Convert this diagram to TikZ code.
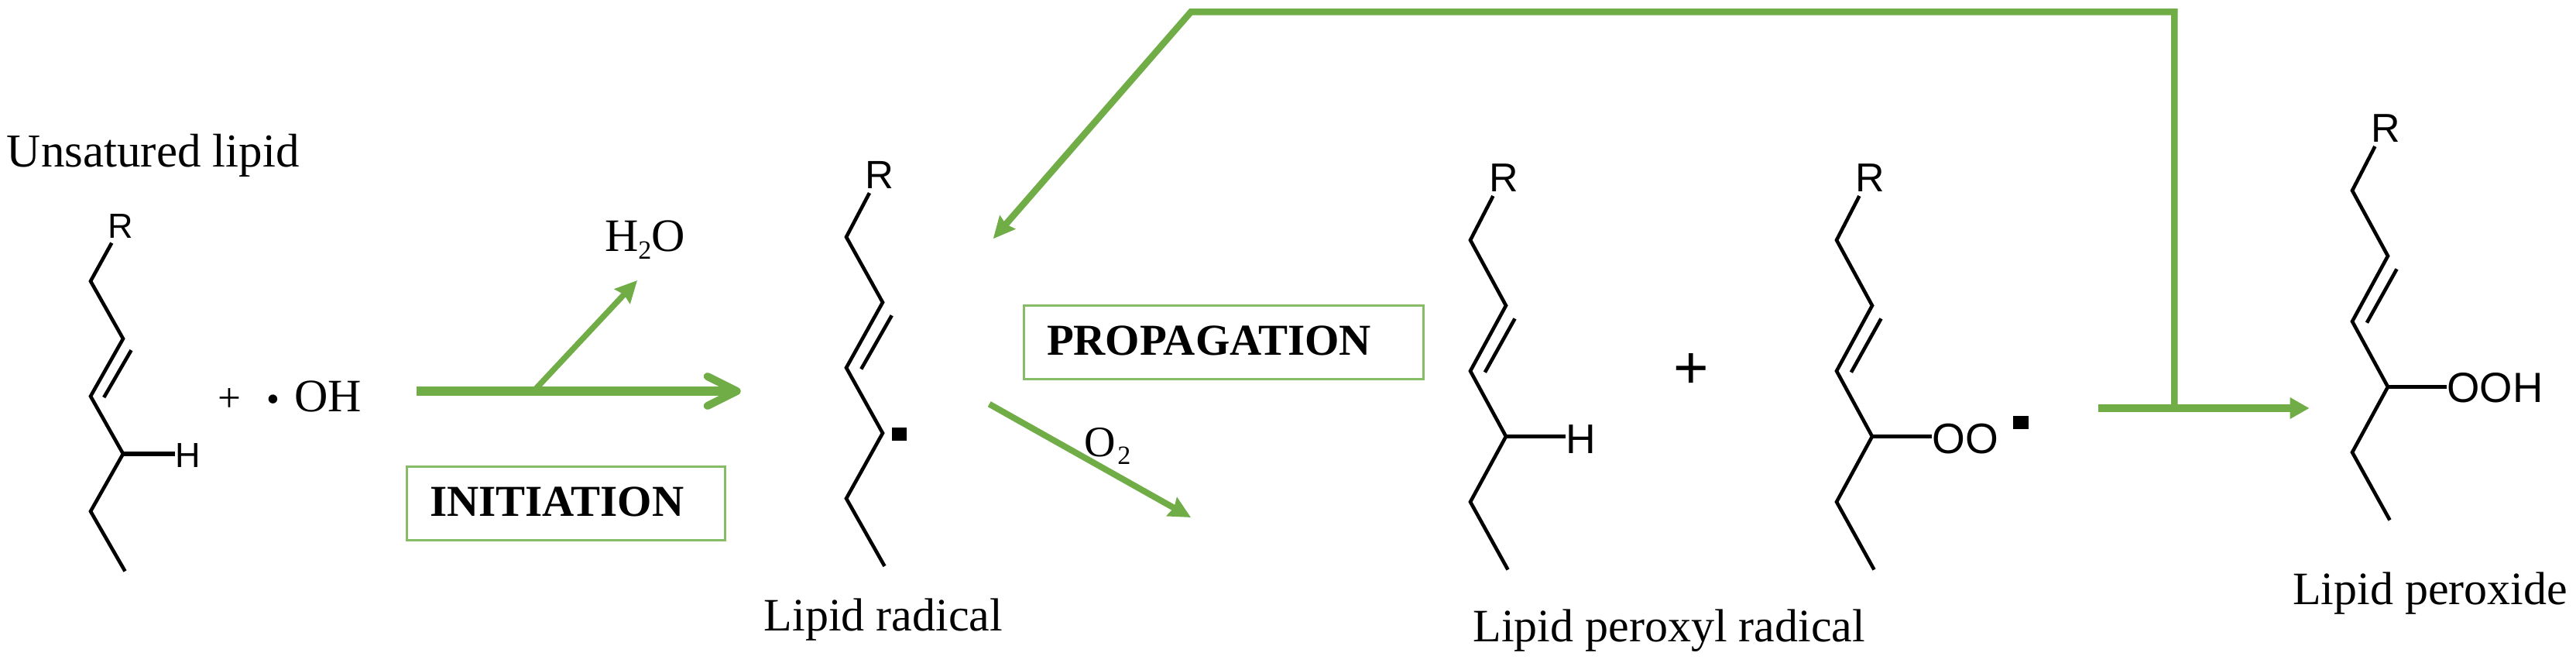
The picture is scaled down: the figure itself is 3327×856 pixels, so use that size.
\documentclass[tikz,border=0pt]{standalone}
\usepackage{fontspec}
\setmainfont{Liberation Serif}
\newfontfamily\chemfont{Liberation Sans}
\usetikzlibrary{arrows.meta}
\definecolor{lipgreen}{HTML}{70AD47}
\definecolor{boxgreen}{HTML}{85BC65}
\newcommand{\lipidchain}[6]{%
  \coordinate (#1c1) at (#2,#3);
  \coordinate (#1c2) at ({#2+#4},{#3+#5});
  \coordinate (#1c3) at (#2,{#3+2*#5});
  \coordinate (#1c4) at ({#2+#4},{#3+3*#5});
  \coordinate (#1c5) at (#2,{#3+4*#5});
  \coordinate (#1c6) at ({#2+#4+2.5},{#3+5*#5+3});
  \coordinate (#1d1) at ({#2+1.25*#4},{#3+1.2*#5});
  \coordinate (#1d2) at ({#2+.41*#4},{#3+2.02*#5});
  \node[atom,font=\chemfont\fontsize{#6}{#6}\selectfont] (#1R) at ({#2+.53*#4},{#3-.745*#5}) {R};
  \draw[bond] ([shift={(5,6)}]#1R.base west) -- (#1c1) -- (#1c2) -- (#1c3) -- (#1c4) -- (#1c5) -- (#1c6);
  \draw[bond] (#1d1) -- (#1d2);
}
\tikzset{
  atom/.style={inner sep=0pt,outer sep=0pt,anchor=base west},
  bond/.style={draw=black,line width=4.6pt,line join=miter},
  hbond/.style={draw=black,line width=5.5pt},
  label/.style={inner sep=0pt,outer sep=0pt,font=\fontsize{60}{62}\selectfont},
  stage/.style={inner sep=0pt,outer sep=0pt,anchor=base west,font=\bfseries\fontsize{57}{60}\selectfont},
  stagebox/.style={draw=boxgreen,line width=3pt,inner sep=0pt},
  greenline/.style={draw=lipgreen,line join=miter},
  headtip/.style={-{Stealth[length=28pt,width=27pt,inset=3pt]}},
  radical/.style={fill=black,inner sep=0pt,outer sep=0pt,minimum width=19pt,minimum height=17pt},
}
\begin{document}
\begin{tikzpicture}[x=1pt,y=-1pt]
\useasboundingbox (0,0) rectangle (3327,856);
% structure 1
\lipidchain{a}{117}{363}{42}{74.3}{45}
\node[atom,font=\chemfont\fontsize{45}{45}\selectfont] (aH) at (226,603.5) {H};
\draw[hbond] (ac4) -- (ac4 -| aH.west);
\node[label,anchor=base west,font=\fontsize{61}{62}\selectfont] (ulabel) at (9,215) {Unsatured lipid};
\node[label,anchor=base west] (oh) at (281,531.7) {{\fontsize{53}{53}\selectfont +}\hspace{33.5pt}{\fontsize{48}{48}\selectfont\textbullet}\hspace{19pt}OH};
% structure 2
\lipidchain{b}{1093}{306}{47}{84.4}{51}
\node[radical] (brad) at (1161,560) {};
\node[label,anchor=base] (blabel) at (1141,814) {Lipid radical};
% structure 3
\lipidchain{c}{1899}{310}{46}{84.5}{52}
\node[atom,font=\chemfont\fontsize{53.5}{54}\selectfont] (cH) at (2022,585) {H};
\draw[hbond] (cc4) -- (cc4 -| cH.west);
\node[inner sep=0pt,font=\chemfont\fontsize{78}{78}\selectfont] (plus) at (2184,478.7) {+};
% structure 4
\lipidchain{d}{2372}{310}{46}{84.5}{52}
\node[atom,font=\chemfont\fontsize{55}{55}\selectfont] (dOO) at (2495.4,585) {OO};
\draw[hbond] (dc4) -- (dc4 -| dOO.west);
\node[radical,minimum width=20pt,minimum height=17pt] (drad) at (2610,545.7) {};
\node[label,anchor=base east] (dlabel) at (2409,828.7) {Lipid peroxyl radical};
% structure 5
\lipidchain{e}{3038}{246}{46}{84.5}{52}
\node[atom,font=\chemfont\fontsize{54.5}{55}\selectfont] (eOOH) at (3160.4,519.7) {OOH};
\draw[hbond] (ec4) -- (ec4 -| eOOH.west);
\node[label,anchor=base east] (elabel) at (3316,780.7) {Lipid peroxide};
% initiation
\coordinate (i0) at (538,505);
\coordinate (i1) at (956.7,505);
\coordinate (ib) at (691,503);
\coordinate (i2) at (823,362);
\draw[greenline,line width=11.3pt,-{Straight Barb[length=38pt,width=38pt,round,line width=10pt]}] (i0) -- (i1);
\draw[greenline,line width=7.5pt,headtip] (ib) -- (i2);
\node[label,anchor=base west] (water) at (781,324) {H\raisebox{-10pt}{\fontsize{34}{34}\selectfont 2}O};
\node[stagebox,minimum width=411pt,minimum height=95.4pt] (ibox) at (731.2,650) {};
\node[stage] (itext) at (555,666) {INITIATION};
% propagation
\node[stagebox,minimum width=516pt,minimum height=95.3pt] (pbox) at (1580,441.7) {};
\node[stage] (ptext) at (1352,458.3) {PROPAGATION};
\coordinate (o0) at (1277.7,521.7);
\coordinate (o1) at (1538,668);
\draw[greenline,line width=8pt,headtip] (o0) -- (o1);
\node[label,anchor=base west,font=\fontsize{56}{58}\selectfont] (oxy) at (1400,589) {O\hspace{3pt}\raisebox{-10pt}{\fontsize{34}{34}\selectfont 2}};
% product arrow and feedback
\coordinate (f0) at (2710,527);
\coordinate (f1) at (2982.7,527);
\coordinate (fj) at (2808.3,527);
\coordinate (ft) at (2808.3,15.5);
\coordinate (fl) at (1538,15.5);
\coordinate (fe) at (1282.7,308.3);
\draw[greenline,line width=9.4pt,-{Triangle[length=25pt,width=26pt]}] (f0) -- (f1);
\draw[greenline,line width=8.5pt,-{Stealth[length=28pt,width=26pt,inset=3pt]}] (fj) -- (ft) -- (fl) -- (fe);
\end{tikzpicture}
\end{document}
